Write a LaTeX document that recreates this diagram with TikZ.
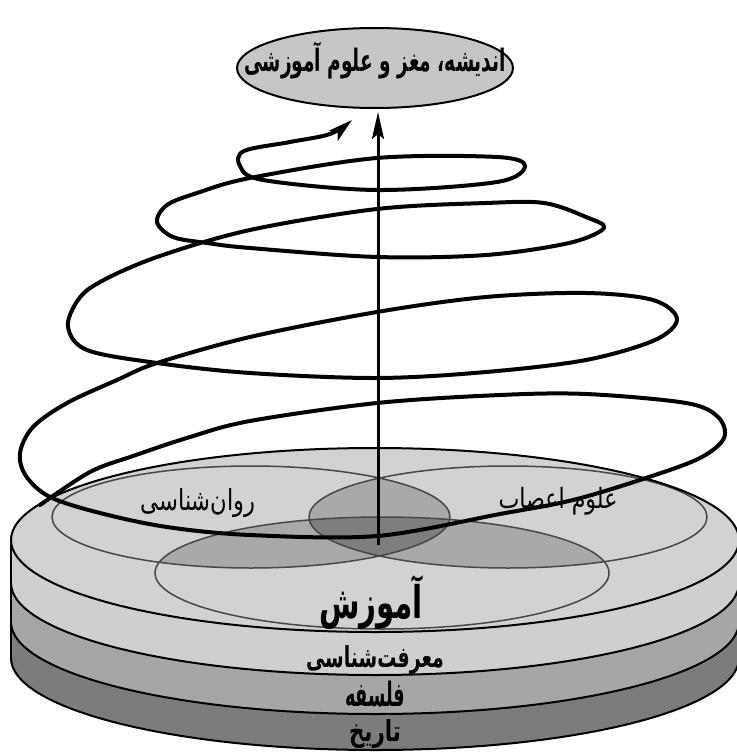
\documentclass[tikz,border=0pt]{standalone}
\usepackage{fontspec}
\usepackage{graphicx}
\usetikzlibrary{shapes.geometric,arrows.meta}
\newfontfamily\fa[Script=Arabic]{DejaVu Sans}
\TeXXeTstate=1
\definecolor{faceA}{HTML}{D2D2D2}
\definecolor{slabA}{HTML}{CFCFCF}
\definecolor{slabB}{HTML}{A6A6A6}
\definecolor{slabC}{HTML}{7C7C7C}
\definecolor{lensA}{HTML}{A9A9A9}
\definecolor{lensB}{HTML}{7E7E7E}
\definecolor{vennline}{HTML}{474747}
\definecolor{topfill}{HTML}{C6C6C6}
\tikzset{
  outl/.style={draw=black, line width=2pt},
  vennl/.style={draw=vennline, line width=1.5pt},
  spiralline/.style={line width=4pt, line cap=round, line join=round,
     -{Stealth[length=24pt,width=13pt,inset=5pt]}},
  axisline/.style={line width=3pt, -{Stealth[length=27pt,width=12pt,inset=5pt]}},
  lbl/.style={font=\fa\fontsize{19}{22}\selectfont, inner sep=0pt},
  blbl/.style={font=\fa\bfseries\fontsize{21}{24}\selectfont, inner sep=0pt},
}
\begin{document}
\begin{tikzpicture}[x=1pt,y=-1pt]
\useasboundingbox (0,0) rectangle (736,752);
% ---- slab 3 (bottom, dark)
\fill[slabC] (11,622) rectangle (739,658);
\fill[slabC] (375,658) ellipse [x radius=364, y radius=92];
\draw[outl] (11,622) -- (11,658);
\draw[outl] (739,622) -- (739,658);
\begin{scope}\clip (0,658) rectangle (752,760);
\draw[outl] (375,658) ellipse [x radius=364, y radius=92];
\end{scope}
% ---- slab 2
\fill[slabB] (11,583) rectangle (739,622);
\fill[slabB] (375,622) ellipse [x radius=364, y radius=92];
\draw[outl] (11,583) -- (11,622);
\draw[outl] (739,583) -- (739,622);
\begin{scope}\clip (0,622) rectangle (752,760);
\draw[outl] (375,622) ellipse [x radius=364, y radius=92];
\end{scope}
% ---- slab 1
\fill[slabA] (11,540) rectangle (739,583);
\fill[slabA] (375,583) ellipse [x radius=364, y radius=92];
\draw[outl] (11,540) -- (11,583);
\draw[outl] (739,540) -- (739,583);
\begin{scope}\clip (0,583) rectangle (752,760);
\draw[outl] (375,583) ellipse [x radius=364, y radius=92];
\end{scope}
% ---- top face
\fill[faceA] (375,540) ellipse [x radius=364, y radius=92];
% ---- Venn overlaps
\coordinate (vl) at (251,517);
\coordinate (vr) at (508,517);
\coordinate (vb) at (382,573);
\begin{scope}\clip (vl) ellipse [x radius=199, y radius=51];
\fill[lensA] (vr) ellipse [x radius=199, y radius=51];
\fill[lensA] (vb) ellipse [x radius=227, y radius=56];
\end{scope}
\begin{scope}\clip (vr) ellipse [x radius=199, y radius=51];
\fill[lensA] (vb) ellipse [x radius=227, y radius=56];
\end{scope}
\begin{scope}\clip (vl) ellipse [x radius=199, y radius=51];
\clip (vr) ellipse [x radius=199, y radius=51];
\fill[lensB] (vb) ellipse [x radius=227, y radius=56];
\end{scope}
\draw[vennl] (vl) ellipse [x radius=199, y radius=51];
\draw[vennl] (vr) ellipse [x radius=199, y radius=51];
\draw[vennl] (vb) ellipse [x radius=227, y radius=56];
\draw[outl] (375,540) ellipse [x radius=364, y radius=92];
% ---- labels on the disk
\node[lbl] (psy) at (198,503) {\resizebox*{115pt}{29pt}{\beginR روان‌شناسی\endR}};
\node[lbl] (neuro) at (558,501) {\resizebox*{119pt}{28pt}{\beginR علوم اعصاب\endR}};
\node[blbl] (edu) at (371,602) {\resizebox*{104pt}{54pt}{\beginR آموزش\endR}};
\node[blbl] (epi) at (375,660) {\resizebox*{138pt}{29pt}{\beginR معرفت‌شناسی\endR}};
\node[blbl] (phil) at (375,694) {\resizebox*{60pt}{26pt}{\beginR فلسفه\endR}};
\node[blbl] (hist) at (375,734) {\resizebox*{52pt}{29pt}{\beginR تاریخ\endR}};
% ---- spiral
\coordinate (spstart) at (40,505);
\coordinate (spend) at (352,120);
\draw[spiralline] plot[smooth, tension=0.55] coordinates {
 (spstart) (90,472) (133,456) (190,437) (250,421) (377,403) (500,395) (586,394)
 (686,403) (718,417) (724,438) (700,458) (646,478) (573,500) (500,514) (377,536)
 (250,535) (167,527) (100,513) (50,497) (26,476) (20,453) (33,427) (67,403)
 (117,380) (157,363) (250,337) (377,312) (486,297) (586,293) (653,300) (677,319)
 (655,340) (586,360) (486,372) (377,378) (250,373) (157,363) (87,350) (68,327)
 (78,300) (100,282) (157,257) (250,230) (377,209) (486,203) (544,203) (586,217)
 (604,228) (569,243) (486,255) (377,257) (250,248) (207,243) (173,237) (157,222)
 (167,205) (197,193) (250,178) (377,158) (497,157) (525,166) (497,182) (377,190)
 (263,180) (240,166) (244,151) (290,142) (330,134) (spend)};
% ---- top node and axis arrow
\node[ellipse, draw=black, line width=2pt, fill=topfill, minimum width=276pt,
      minimum height=80pt, inner sep=0pt] (top) at (375,68) {};
\node[blbl] (toptext) at (375,61) {\resizebox*{262pt}{37pt}{\beginR اندیشه، مغز و علوم آموزشی\endR}};
\coordinate (base) at (378,545);
\draw[axisline, shorten >=3pt] (base) -- (base |- top.south);
\end{tikzpicture}
\end{document}
